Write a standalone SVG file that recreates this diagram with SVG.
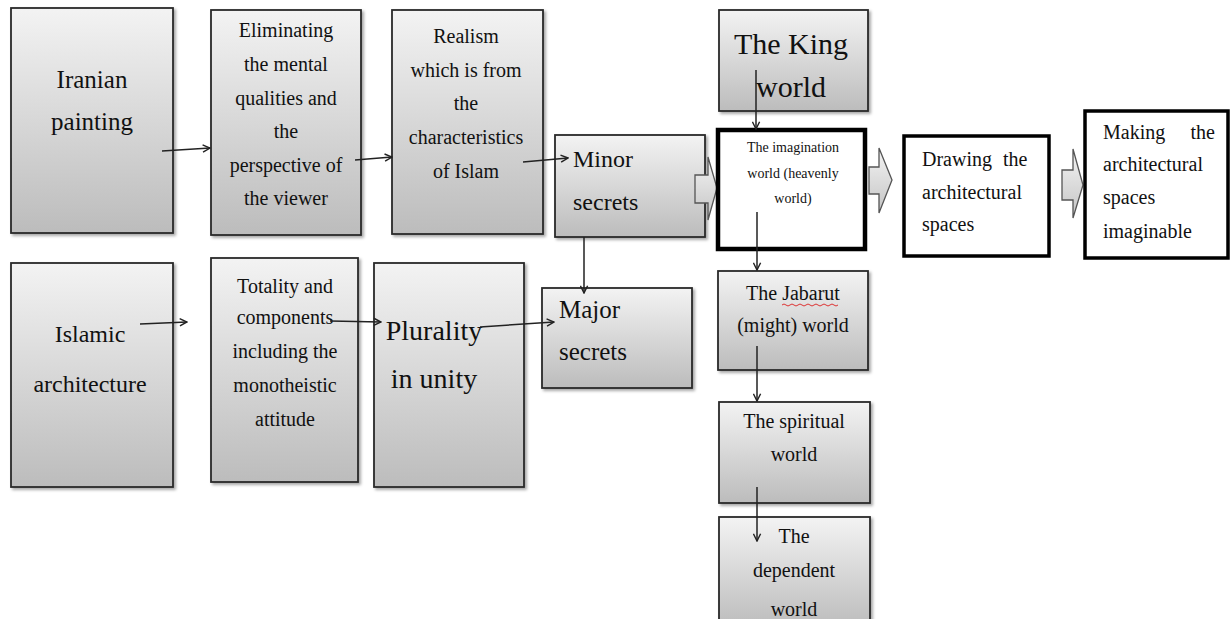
<svg xmlns="http://www.w3.org/2000/svg" width="1231" height="619" viewBox="0 0 1231 619">
<defs>
  <linearGradient id="gbox" x1="0" y1="0" x2="0" y2="1">
    <stop offset="0" stop-color="#f3f3f3"/>
    <stop offset="1" stop-color="#bcbcbc"/>
  </linearGradient>
  <linearGradient id="garr" x1="0" y1="0" x2="0" y2="1">
    <stop offset="0" stop-color="#f4f4f4"/>
    <stop offset="1" stop-color="#c4c4c4"/>
  </linearGradient>
  <filter id="sh" x="-5%" y="-5%" width="115%" height="115%">
    <feDropShadow dx="2" dy="2" stdDeviation="1.5" flood-color="#000" flood-opacity="0.35"/>
  </filter>
  <marker id="ah" viewBox="0 0 10 10" refX="9" refY="5" markerWidth="9" markerHeight="9" markerUnits="userSpaceOnUse" orient="auto">
    <path d="M1,1 L9,5 L1,9" fill="none" stroke="#222" stroke-width="1.6"/>
  </marker>
  <style>
    .box{fill:url(#gbox);stroke:#2a2a2a;stroke-width:1.8;filter:url(#sh)}
    .wbox{fill:#fff;stroke:#000}
    .t{font-family:"Liberation Serif","Times New Roman",serif;fill:#111;text-anchor:middle}
    .tl{font-family:"Liberation Serif","Times New Roman",serif;fill:#111}
    .c{stroke:#222;stroke-width:1.5;fill:none;marker-end:url(#ah)}
    .blk{fill:url(#garr);stroke:#555;stroke-width:1.3}
  </style>
</defs>

<g id="node-iranian-painting">
  <rect class="box" x="11" y="8" width="162" height="225"/>
  <text class="t" font-size="25" x="92" y="88">Iranian</text>
  <text class="t" font-size="25" x="92" y="130">painting</text>
</g>

<g id="node-eliminating">
  <rect class="box" x="211" y="10" width="150" height="225"/>
  <text class="t" font-size="20" x="286" y="37">Eliminating</text>
  <text class="t" font-size="20" x="286" y="71">the mental</text>
  <text class="t" font-size="20" x="286" y="105">qualities and</text>
  <text class="t" font-size="20" x="286" y="138">the</text>
  <text class="t" font-size="20" x="286" y="172">perspective of</text>
  <text class="t" font-size="20" x="286" y="205">the viewer</text>
</g>

<g id="node-realism">
  <rect class="box" x="392" y="10" width="151" height="224"/>
  <text class="t" font-size="20" x="466" y="43">Realism</text>
  <text class="t" font-size="20" x="466" y="77">which is from</text>
  <text class="t" font-size="20" x="466" y="110">the</text>
  <text class="t" font-size="20" x="466" y="144">characteristics</text>
  <text class="t" font-size="20" x="466" y="178">of Islam</text>
</g>

<g id="node-minor-secrets">
  <rect class="box" x="555" y="135" width="150" height="102"/>
  <text class="tl" font-size="24" x="573" y="167">Minor</text>
  <text class="tl" font-size="24" x="573" y="210">secrets</text>
</g>

<g id="node-king-world">
  <rect class="box" x="719" y="10" width="149" height="101"/>
  <text class="t" font-size="30" x="791" y="54">The King</text>
  <text class="t" font-size="30" x="791" y="97">world</text>
</g>

<g id="node-islamic-architecture">
  <rect class="box" x="11" y="263" width="162" height="224"/>
  <text class="t" font-size="24" x="90" y="342">Islamic</text>
  <text class="t" font-size="24" x="90" y="392">architecture</text>
</g>

<g id="node-totality">
  <rect class="box" x="211" y="258" width="147" height="224"/>
  <text class="t" font-size="20" x="285" y="293">Totality and</text>
  <text class="t" font-size="20" x="285" y="324">components</text>
  <text class="t" font-size="20" x="285" y="358">including the</text>
  <text class="t" font-size="20" x="285" y="392">monotheistic</text>
  <text class="t" font-size="20" x="285" y="426">attitude</text>
</g>

<g id="node-plurality">
  <rect class="box" x="374" y="263" width="150" height="224"/>
  <text class="t" font-size="28" x="434" y="340">Plurality</text>
  <text class="t" font-size="28" x="434" y="388">in unity</text>
</g>

<g id="node-major-secrets">
  <rect class="box" x="542" y="288" width="150" height="100"/>
  <text class="tl" font-size="25" x="559" y="318">Major</text>
  <text class="tl" font-size="25" x="559" y="360">secrets</text>
</g>

<g id="node-jabarut">
  <rect class="box" x="718" y="271" width="150" height="99"/>
  <text class="t" font-size="20" x="793" y="300">The Jabarut</text>
  <text class="t" font-size="20" x="793" y="332">(might) world</text>
  <path d="M782,305 q2,-2 4,0 t4,0 t4,0 t4,0 t4,0 t4,0 t4,0 t4,0 t4,0 t4,0 t4,0 t4,0 t4,0 t4,0" fill="none" stroke="#d33" stroke-width="1"/>
</g>

<g id="node-spiritual">
  <rect class="box" x="719" y="402" width="151" height="101"/>
  <text class="t" font-size="20" x="794" y="428">The spiritual</text>
  <text class="t" font-size="20" x="794" y="461">world</text>
</g>

<g id="node-dependent">
  <rect class="box" x="719" y="517" width="151" height="110"/>
  <text class="t" font-size="20" x="794" y="543">The</text>
  <text class="t" font-size="20" x="794" y="577">dependent</text>
  <text class="t" font-size="20" x="794" y="616">world</text>
</g>

<g id="block-arrows">
  <path class="blk" d="M695,175 H708 V157 L717,188 L708,220 V203 H695 Z"/>
  <path class="blk" d="M869,167 H879 V148 L892,180 L879,213 V194 H869 Z"/>
  <path class="blk" d="M1062,170 H1073 V149 L1083,185 L1073,218 V200 H1062 Z"/>
</g>

<g id="node-imagination-world">
  <rect class="wbox" x="718" y="130" width="147" height="119" stroke-width="4.5"/>
  <text class="t" font-size="14" x="793" y="152">The imagination</text>
  <text class="t" font-size="14" x="793" y="178">world (heavenly</text>
  <text class="t" font-size="14" x="793" y="203">world)</text>
</g>

<g id="node-drawing">
  <rect class="wbox" x="904" y="136" width="145" height="120" stroke-width="3.5"/>
  <text class="tl" font-size="20" x="922" y="166" word-spacing="6">Drawing the</text>
  <text class="tl" font-size="20" x="922" y="199">architectural</text>
  <text class="tl" font-size="20" x="922" y="231">spaces</text>
</g>

<g id="node-making">
  <rect class="wbox" x="1085" y="111" width="143" height="147" stroke-width="3.5"/>
  <text class="tl" font-size="20" x="1103" y="139">Making</text>
  <text class="tl" font-size="20" x="1215" y="139" text-anchor="end">the</text>
  <text class="tl" font-size="20" x="1103" y="171">architectural</text>
  <text class="tl" font-size="20" x="1103" y="204">spaces</text>
  <text class="tl" font-size="20" x="1103" y="238">imaginable</text>
</g>

<g id="connectors">
  <line class="c" x1="162" y1="151" x2="210" y2="148"/>
  <line class="c" x1="355" y1="160" x2="392" y2="157"/>
  <line class="c" x1="523" y1="162" x2="568" y2="158"/>
  <line class="c" x1="584" y1="237" x2="584" y2="293"/>
  <line class="c" x1="140" y1="324" x2="187" y2="322"/>
  <line class="c" x1="330" y1="321" x2="381" y2="322"/>
  <line class="c" x1="480" y1="327" x2="554" y2="322"/>
  <line class="c" x1="756" y1="70" x2="756" y2="129"/>
  <line class="c" x1="757" y1="212" x2="757" y2="270"/>
  <line class="c" x1="757" y1="346" x2="757" y2="401"/>
  <line class="c" x1="757" y1="487" x2="757" y2="541"/>
</g>
</svg>
